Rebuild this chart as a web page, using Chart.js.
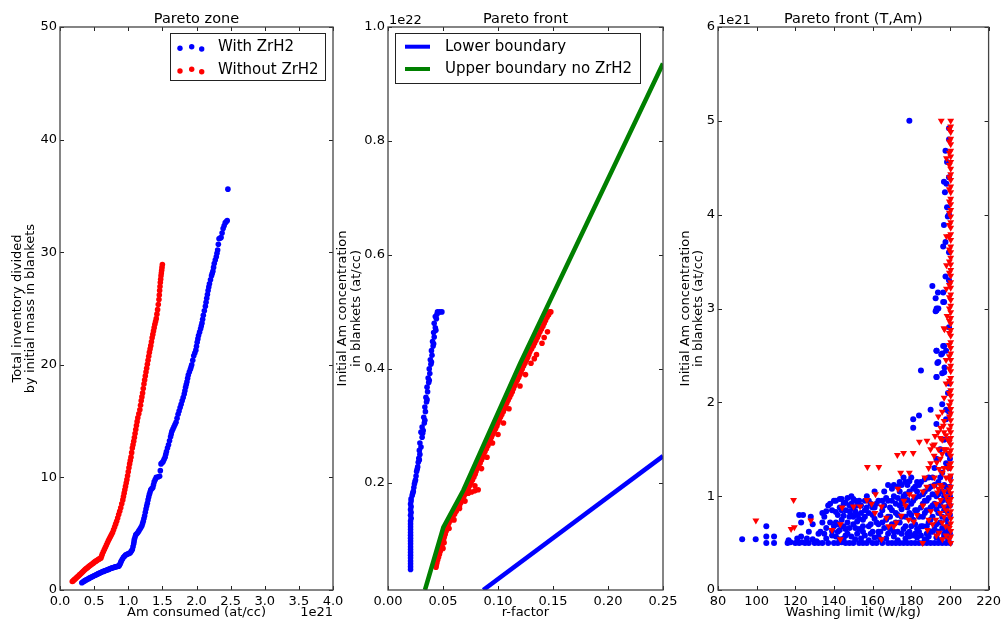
<!DOCTYPE html>
<html>
<head>
<meta charset="utf-8">
<script src="https://cdn.jsdelivr.net/npm/chart.js@4.4.1/dist/chart.umd.min.js"></script>
<style>
html, body { margin: 0; padding: 0; background: #fff; }
#wrap { position: relative; width: 1005px; height: 623px; overflow: hidden; background: #fff; }
canvas { position: absolute; left: 0; top: 0; }
</style>
</head>
<body>
<div id="wrap">
  <canvas id="zone" width="1005" height="623"></canvas>
  <canvas id="front" width="1005" height="623"></canvas>
  <canvas id="frontTAm" width="1005" height="623"></canvas>
</div>
<script>
// ---- Panel 1: Pareto zone (x in 1e21 at/cc) ----
const zoneWith = [
  [0.32,0.65],[0.335,0.71],[0.35,0.78],[0.365,0.83],[0.38,0.88],[0.395,0.93],[0.41,0.98],[0.425,1.03],
  [0.44,1.08],[0.455,1.13],[0.47,1.18],[0.485,1.22],[0.50,1.27],[0.515,1.31],[0.53,1.36],[0.545,1.4],
  [0.56,1.45],[0.575,1.49],[0.59,1.53],[0.605,1.57],[0.62,1.61],[0.635,1.65],[0.65,1.69],[0.665,1.72],
  [0.68,1.76],[0.695,1.8],[0.71,1.83],[0.725,1.87],[0.74,1.9],[0.755,1.94],[0.77,1.97],[0.785,2.0],
  [0.80,2.03],[0.815,2.06],[0.83,2.08],[0.845,2.1],[0.86,2.12],[0.87,2.2],[0.88,2.3],[0.89,2.45],
  [0.90,2.6],[0.915,2.75],[0.93,2.9],[0.945,3.0],[0.96,3.1],[0.975,3.15],[0.99,3.2],[1.01,3.25],
  [1.03,3.3],[1.045,3.45],[1.06,3.6],[1.07,3.85],[1.08,4.1],[1.085,4.3],[1.09,4.5],[1.10,4.7],
  [1.11,4.9],[1.125,5.0],[1.14,5.1],[1.155,5.25],[1.17,5.4],[1.185,5.55],[1.20,5.7],[1.21,5.9],
  [1.22,6.1],[1.23,6.35],[1.24,6.6],[1.25,6.9],[1.26,7.2],[1.27,7.45],[1.28,7.7],[1.29,8.0],
  [1.30,8.25],[1.31,8.5],[1.32,8.7],[1.33,8.9],[1.345,9.0],[1.36,9.1],[1.37,9.35],[1.38,9.6],
  [1.395,9.8],[1.41,10.0],[1.44,10.05],[1.46,10.1],[1.47,10.6],[1.48,11.2],[1.495,11.3],[1.51,11.4],
  [1.525,11.6],[1.54,11.8],[1.55,12.05],[1.56,12.3],[1.575,12.6],[1.59,12.9],[1.605,13.25],[1.62,13.6],
  [1.63,13.85],[1.64,14.1],[1.655,14.3],[1.67,14.5],[1.685,14.7],[1.70,14.9],[1.715,15.25],[1.73,15.6],
  [1.745,15.9],[1.76,16.2],[1.775,16.5],[1.79,16.8],[1.805,17.1],[1.82,17.4],[1.83,17.7],[1.84,18.0],
  [1.85,18.25],[1.86,18.5],[1.87,18.8],[1.88,19.1],[1.895,19.35],[1.91,19.6],[1.92,19.8],[1.93,20.0],
  [1.945,20.4],[1.96,20.8],[1.975,21.05],[1.99,21.3],[2.00,21.65],[2.01,22.0],[2.02,22.3],[2.03,22.6],
  [2.045,22.9],[2.06,23.2],[2.07,23.45],[2.08,23.7],[2.09,24.05],[2.10,24.4],[2.115,24.8],[2.13,25.2],
  [2.14,25.55],[2.15,25.9],[2.16,26.25],[2.17,26.6],[2.18,26.9],[2.19,27.2],[2.205,27.55],[2.22,27.9],
  [2.23,28.1],[2.24,28.3],[2.25,28.65],[2.26,29.0],[2.275,29.3],[2.29,29.6],[2.30,29.9],[2.31,30.2],
  [2.32,30.7],[2.33,31.2],[2.345,31.25],[2.36,31.3],[2.375,31.7],[2.39,32.1],[2.405,32.35],[2.42,32.6],
  [2.435,32.7],[2.45,32.8],[2.46,35.6]
];
const zoneWithout = [
  [0.18,0.75],[0.195,0.83],[0.21,0.92],[0.225,1.0],[0.24,1.08],[0.255,1.17],[0.27,1.25],[0.285,1.34],
  [0.30,1.42],[0.315,1.51],[0.33,1.6],[0.345,1.69],[0.36,1.78],[0.375,1.86],[0.39,1.93],[0.405,2.0],
  [0.42,2.08],[0.435,2.15],[0.45,2.22],[0.465,2.29],[0.48,2.36],[0.495,2.43],[0.51,2.5],[0.525,2.56],
  [0.54,2.62],[0.555,2.68],[0.57,2.74],[0.585,2.8],[0.60,2.85],[0.61,3.02],[0.62,3.2],[0.635,3.4],
  [0.65,3.6],[0.665,3.8],[0.68,4.0],[0.695,4.2],[0.71,4.4],[0.725,4.58],[0.74,4.75],[0.755,4.93],
  [0.77,5.1],[0.785,5.35],[0.80,5.6],[0.815,5.85],[0.83,6.1],[0.845,6.4],[0.86,6.7],[0.875,7.0],
  [0.89,7.3],[0.905,7.65],[0.92,8.0],[0.93,8.3],[0.94,8.6],[0.95,8.9],[0.96,9.2],[0.97,9.5],
  [0.98,9.8],[0.99,10.15],[1.00,10.5],[1.01,10.85],[1.02,11.2],[1.03,11.5],[1.04,11.8],[1.05,12.2],
  [1.06,12.6],[1.07,12.9],[1.08,13.2],[1.09,13.55],[1.10,13.9],[1.11,14.25],[1.12,14.6],[1.13,14.95],
  [1.14,15.3],[1.155,15.65],[1.17,16.0],[1.18,16.4],[1.19,16.8],[1.20,17.15],[1.21,17.5],[1.22,17.9],
  [1.23,18.3],[1.24,18.65],[1.25,19.0],[1.26,19.35],[1.27,19.7],[1.28,20.05],[1.29,20.4],[1.30,20.75],
  [1.31,21.1],[1.32,21.4],[1.33,21.7],[1.34,22.05],[1.35,22.4],[1.36,22.7],[1.37,23.0],[1.38,23.3],
  [1.39,23.6],[1.40,23.85],[1.41,24.1],[1.42,24.5],[1.43,24.9],[1.44,25.35],[1.45,25.8],[1.455,26.2],
  [1.46,26.6],[1.465,26.95],[1.47,27.3],[1.475,27.6],[1.48,27.9],[1.485,28.15],[1.49,28.4],[1.495,28.65],
  [1.50,28.9]
];
const zoneXTicks = [0, 0.5, 1, 1.5, 2, 2.5, 3, 3.5, 4];
const zoneXLabels = ['0.0','0.5','1.0','1.5','2.0','2.5','3.0','3.5','4.0'];
const zoneYTicks = [0, 10, 20, 30, 40, 50];
const zoneYLabels = ['0','10','20','30','40','50'];

// ---- Panel 2: Pareto front (y in 1e22 at/cc) ----
const frontWith = [
  [0.0205,0.048],[0.0205,0.053],[0.0205,0.058],[0.0205,0.063],[0.0205,0.068],[0.0205,0.073],
  [0.0205,0.078],[0.0205,0.083],[0.0205,0.088],[0.0205,0.093],[0.0205,0.098],[0.0205,0.103],
  [0.0205,0.108],[0.0205,0.113],[0.0205,0.118],[0.0205,0.123],[0.0205,0.128],[0.0205,0.133],
  [0.021,0.138],[0.0205,0.143],[0.021,0.148],[0.0205,0.153],[0.021,0.158],[0.0205,0.163],
  [0.021,0.168],[0.021,0.172],[0.022,0.178],[0.023,0.185],[0.0235,0.192],[0.024,0.198],
  [0.025,0.205],[0.0255,0.212],[0.026,0.22],[0.027,0.228],[0.0275,0.236],[0.028,0.243],
  [0.029,0.25],[0.0285,0.257],[0.030,0.263],[0.029,0.27],[0.031,0.28],[0.030,0.289],
  [0.032,0.292],[0.031,0.298],[0.033,0.305],[0.0325,0.315],[0.034,0.325],[0.0335,0.333],
  [0.035,0.342],[0.0345,0.35],[0.036,0.36],[0.0355,0.368],[0.037,0.376],[0.0365,0.384],
  [0.038,0.392],[0.0375,0.4],[0.039,0.408],[0.0385,0.416],[0.040,0.424],[0.0395,0.432],
  [0.041,0.44],[0.0405,0.448],[0.042,0.456],[0.0415,0.464],[0.043,0.472],[0.042,0.48],
  [0.044,0.488],[0.043,0.492],[0.0445,0.496],[0.045,0.5],[0.047,0.5],[0.049,0.5],
  [0.0225,0.182],[0.0245,0.202],[0.0265,0.224],[0.0285,0.24],[0.0315,0.287],[0.0335,0.31],
  [0.0355,0.346],[0.0375,0.38],[0.0395,0.412],[0.0415,0.444],[0.0435,0.468]
];
const frontWithout = [
  [0.0436,0.052],[0.0445,0.06],[0.046,0.07],[0.0475,0.08],[0.049,0.09],[0.0505,0.10],
  [0.052,0.11],[0.0535,0.12],[0.0555,0.13],[0.059,0.14],[0.062,0.15],[0.065,0.16],
  [0.0675,0.17],[0.070,0.18],[0.073,0.19],[0.0755,0.20],[0.078,0.21],[0.080,0.22],
  [0.0825,0.23],[0.085,0.24],[0.087,0.25],[0.0895,0.26],[0.092,0.27],[0.094,0.28],
  [0.0965,0.29],[0.099,0.30],[0.101,0.31],[0.1035,0.32],[0.106,0.33],[0.108,0.34],
  [0.1105,0.35],[0.113,0.36],[0.115,0.37],[0.1175,0.38],[0.12,0.39],[0.122,0.40],
  [0.1245,0.41],[0.127,0.42],[0.129,0.43],[0.132,0.44],[0.1345,0.45],[0.137,0.46],
  [0.1395,0.47],[0.142,0.48],[0.1445,0.49],[0.147,0.50],
  [0.044,0.056],[0.0452,0.065],[0.0468,0.075],[0.0482,0.085],[0.0498,0.095],[0.0512,0.105],
  [0.0528,0.115],[0.0545,0.125],[0.0572,0.135],[0.0605,0.145],[0.0635,0.155],[0.0662,0.165],
  [0.0688,0.175],[0.0718,0.185],[0.0742,0.195],[0.0768,0.205],[0.0792,0.215],[0.0812,0.225],
  [0.0838,0.235],[0.0862,0.245],[0.0882,0.255],[0.0908,0.265],[0.093,0.275],[0.0952,0.285],
  [0.0978,0.295],[0.1,0.305],[0.1022,0.315],[0.1048,0.325],[0.107,0.335],[0.1092,0.345],
  [0.1118,0.355],[0.114,0.365],[0.1162,0.375],[0.1188,0.385],[0.121,0.395],[0.1232,0.405],
  [0.1258,0.415],[0.128,0.425],[0.1305,0.435],[0.1332,0.445],[0.1358,0.455],[0.1382,0.465],
  [0.1408,0.475],[0.1432,0.485],[0.1458,0.495],
  [0.0465,0.075],[0.051,0.095],[0.05,0.085],[0.0555,0.12],[0.06,0.135],[0.065,0.155],
  [0.07,0.168],[0.073,0.182],[0.076,0.184],[0.079,0.186],[0.082,0.188],[0.079,0.195],
  [0.085,0.225],[0.09,0.245],[0.095,0.27],[0.1,0.285],[0.105,0.305],[0.11,0.33],
  [0.12,0.37],[0.125,0.39],[0.13,0.41],[0.133,0.418],[0.135,0.425],[0.14,0.445],
  [0.142,0.455],[0.145,0.465],[0.148,0.5],[0.146,0.495]
];
const lowerBoundary = [[0.0866,0.012],[0.25,0.247]];
const upperBoundary = [[0.0336,0.012],[0.0503,0.122],[0.0685,0.187],[0.12,0.409],[0.25,0.936]];
const frontXTicks = [0, 0.05, 0.1, 0.15, 0.2, 0.25];
const frontXLabels = ['0.00','0.05','0.10','0.15','0.20','0.25'];
const frontYTicks = [0.2, 0.4, 0.6, 0.8, 1.0];
const frontYLabels = ['0.2','0.4','0.6','0.8','1.0'];

// ---- Panel 3: Pareto front (T,Am) (y in 1e21 at/cc) ----
const tamWith = [
  [105,0.5],[109,0.5],[116,0.5],[117.5,0.51],[120,0.5],[122,0.5],[123.5,0.51],[125,0.5],[127,0.5],
  [130,0.5],[132,0.5],[134,0.5],[137,0.5],[140,0.5],[142,0.5],[144,0.51],[146,0.5],[148,0.5],
  [150,0.5],[153,0.5],[155,0.5],[157,0.5],[160,0.5],[162,0.5],[165,0.5],[168,0.5],[170,0.5],
  [172,0.5],[174,0.5],[176,0.5],[178,0.5],[180,0.5],[182,0.5],[184,0.5],[186,0.5],[188,0.5],
  [190,0.5],[192,0.5],[194,0.5],[196,0.5],[198,0.5],[200,0.5],
  [92.5,0.54],[99.5,0.54],[105,0.57],[109,0.57],[116.5,0.53],[121,0.55],[123,0.57],[126,0.55],
  [129,0.54],[131,0.52],[136,0.55],[141,0.57],[143,0.54],[145,0.55],[149,0.57],[151,0.54],
  [154,0.55],[158,0.53],[161,0.56],[164,0.54],[167,0.55],[171,0.57],[173,0.53],[177,0.55],
  [179,0.57],[183,0.56],[187,0.54],[189,0.57],[193,0.56],[195,0.53],[197,0.57],[199,0.55],
  [105,0.68],[122,0.8],[124,0.8],[123,0.72],[128,0.78],[129,0.7],[132,0.6],[134,0.72],[134,0.82],
  [136,0.84],[137,0.9],[138,0.92],[139,0.63],[140,0.68],[141,0.95],[142,0.8],[143,0.88],[143,0.97],
  [144,0.75],[145,0.92],[146,0.85],[146,0.65],[147,0.98],[148,0.78],[148,0.9],[149,1.0],[150,0.87],
  [150,0.7],[151,0.95],[152,0.8],[153,0.65],[154,0.9],[155,0.75],[156,0.85],[157,1.0],[158,0.68],
  [159,0.92],[160,0.8],[161,1.05],[162,0.72],[163,0.95],[164,0.62],[165,0.85],[166,1.05],[167,0.75],
  [168,1.12],[168,0.95],[169,0.65],[170,0.85],[171,1.0],[172,0.72],[173,1.1],[174,0.9],[174,1.15],
  [175,0.78],[176,1.2],[176,1.0],[177,0.68],[178,0.88],[178,1.12],[179,1.05],[180,0.8],[180,1.2],
  [181,0.95],[182,0.7],[182,1.1],[183,0.85],[184,1.0],[184,0.62],[185,1.15],[186,0.78],[186,0.92],
  [187,1.05],[188,0.68],[188,0.85],[189,1.2],[189,0.98],[190,0.75],[190,1.1],[191,0.9],[192,1.3],
  [192,0.65],[193,1.0],[193,1.4],[194,0.82],[194,1.15],[195,0.72],[195,1.5],[196,0.95],[196,1.05],
  [196,1.25],[197,0.6],[197,0.85],[197,1.6],[198,1.1],[198,0.75],[198,1.35],[199,0.95],[199,1.45],
  [199,0.7],[200,1.0],[200,1.2],[200,0.8],[200,1.4],
  [141,0.72],[142,0.62],[144,0.85],[145,0.68],[147,0.6],[149,0.8],[151,0.66],[152,0.9],[153,0.76],
  [155,0.62],[156,0.95],[158,0.82],[160,0.62],[161,0.88],[163,0.7],[165,0.95],[166,0.66],[169,0.78],
  [170,1.08],[171,0.62],[173,0.8],[175,0.95],[177,1.15],[179,0.62],[181,0.75],[183,1.15],[185,0.68],
  [187,0.95],[191,0.62],[191,1.2],
  [133,0.62],[135,0.78],[136,0.66],[138,0.72],[139,0.85],[140,0.95],[141,0.83],[142,0.7],[143,0.64],
  [144,0.97],[145,0.79],[146,0.93],[147,0.72],[148,0.84],[148,0.66],[149,0.92],[150,0.78],[150,0.97],
  [151,0.84],[152,0.73],[153,0.95],[154,0.82],[155,0.68],[156,0.78],[157,0.88],[158,0.95],[159,0.7],
  [160,0.88],[161,0.76],[162,0.92],[163,0.62],[164,0.8],[165,0.72],[166,0.9],[167,0.98],[168,0.78],
  [169,0.88],[170,0.7],[170,0.95],[171,1.12],[172,0.82],[172,0.92],[173,0.62],[173,0.98],[174,0.72],
  [174,1.05],[175,0.86],[175,1.12],[176,0.65],[176,0.92],[177,0.78],[177,1.02],[178,0.6],[178,0.96],
  [179,0.82],[179,1.16],[180,0.68],[180,0.92],[181,1.08],[181,0.58],[182,0.85],[182,0.98],[183,0.65],
  [183,1.05],[184,0.78],[184,1.12],[185,0.88],[185,0.58],[186,1.02],[186,0.68],[187,0.82],[187,1.18],
  [188,0.95],[188,0.6],[189,0.72],[189,1.08],[190,0.88],[190,0.62],[191,1.02],[191,0.78],[192,0.92],
  [192,1.12],[193,0.7],[193,0.86],[194,0.62],[194,1.02],[195,0.9],[195,1.2],[196,0.78],[196,0.66],
  [197,1.0],[197,1.12],[198,0.88],[198,0.64],[199,1.05],[199,0.82],[200,0.6],[200,0.9],[200,1.1],
  [146,0.58],[152,0.6],[156,0.58],[159,0.6],[163,0.57],[168,0.6],[175,0.6],[182,0.6],[188,0.52],
  [139,0.58],[135,0.6],[127,0.62],
  [181,1.82],[181,1.73],[184,1.86],[185,2.34],[190,1.92],[193,1.77],[193,2.27],[193,2.55],[194,2.43],
  [196,1.98],[196,2.52],[197,2.32],[197,2.6],[198,2.55],[198,1.82],[198,1.92],[199,2.1],[193,2.98],
  [194,3.0],[197,3.07],[179,5.0],[197.7,4.68],[198.5,4.56],[196.9,4.35],[198.2,4.33],[197.4,4.24],
  [198.5,4.08],[198.9,3.98],[196.9,3.89],[197.7,3.71],[196.5,3.66],[197.7,3.34],[190.9,3.24],
  [193.8,3.17],[196.5,3.17],[192.6,3.11],[196.5,3.07],[193.1,3.0],[192.6,2.97],[196.5,2.6],
  [193.1,2.55],[195.5,2.51],[193.5,2.42],[197.2,2.37],[193.1,2.27],[196,2.31],
  [199.5,0.6],[199.5,0.9],[199.5,1.3],[199.5,1.6],[199.5,1.9],[199.5,2.2],[199.5,2.8],[199.5,3.3],
  [199.5,3.6],[199.5,4.0],[199.5,4.4],[199.5,4.8],[199.5,4.92]
];
const tamWithoutScatter = [
  [99.6,0.74],[119.1,0.96],[117.8,0.65],[119.5,0.67],[128,0.74],[139,0.64],[144.2,0.88],[143.3,0.7],
  [143.3,0.54],[150.1,0.89],[153.5,0.89],[157.3,1.31],[163.2,1.31],[157,0.96],[159.5,0.92],
  [161.5,1.02],[161.2,0.82],[164.6,0.89],[167.1,0.77],[168.3,0.68],[164.6,0.54],[172.8,1.44],
  [176,1.46],[181,1.46],[174.5,1.25],[179,1.25],[173.1,1.08],[176.2,0.95],[179,1.02],[172.3,0.72],
  [174.8,0.79],[178.6,0.75],[181.3,0.73],[184.2,1.58],[188.1,1.59],[185.9,0.5],[188.4,0.64],
  [190.1,0.84],[191,1.54],[192.3,1.64],[193.9,1.68],[195.2,1.73],[196.6,1.75],[191.8,1.43],
  [193.2,1.36],[194.4,1.29],[196.1,1.25],[191.8,1.11],[193.5,1.04],[195.2,0.96],[196.9,0.89],
  [192.7,0.75],[194.4,0.61],[196.1,0.54],[197.8,0.68],[196.9,2.79],[195.5,5.0],[197.2,2.78],
  [198.2,3.77],[198.2,3.46],[198.2,3.21],[198.5,2.92],[198.2,4.6],
  [194,1.5],[195,1.4],[196,1.6],[197,1.3],[197,1.5],[198,1.65],[198,1.2],[198,1.0],[197,0.78],
  [198,0.58],[196,1.1],[195,0.82],[192,1.55],[190,1.5],[189,1.3],[186,0.9],[183,0.8],[181,1.0],
  [177,0.9],[171,0.68],
  [186,1.05],[187,1.2],[188,1.1],[189,0.75],[190,1.35],[191,0.7],[192,1.2],[193,0.58],[193,0.92],
  [194,1.08],[195,1.12],[196,0.72],[196,1.45],[197,1.05],[197,1.68],[198,1.5],[198,0.85],[199,1.3],
  [199,0.95],[199,1.6],[195,1.62],[194,1.85],[196,1.9],[197,2.05],[198,2.2],[198,2.45],[197,1.8]
];
// dense column of runs stopped at the 200 W/kg limit
const tamLimitA = [0.5,0.57,0.63,0.71,0.76,0.84,0.9,0.97,1.03,1.1,1.16,1.22,1.3,1.35,1.43,1.49,1.55,
  1.62,1.68,1.75,1.81,1.88,1.93,2.01,2.07,2.13,2.2,2.26,2.33,2.39,2.45,2.52,2.58,2.64,2.71,2.77,2.84,
  2.9,2.96,3.03,3.09,3.15,3.22,3.28,3.35,3.41,3.47,3.54,3.6,3.66,3.73,3.79,3.86,3.92,3.98,4.05,4.11,
  4.17,4.24,4.3,4.37,4.43,4.49,4.56,4.62,4.68,4.75,4.81,4.88,4.94,5.0];
const tamLimitB = [0.54,0.66,0.8,0.93,1.07,1.19,1.33,1.46,1.58,1.71,1.85,1.97,2.1,2.23,2.36,2.49,2.61,
  2.74,2.87,3.0,3.12,3.25,3.38,3.5,3.63,3.77,3.89,4.02,4.14,4.27,4.4,4.53,4.66,4.78,4.91];
const tamXTicks = [80, 100, 120, 140, 160, 180, 200, 220];
const tamXLabels = ['80','100','120','140','160','180','200','220'];
const tamYTicks = [0, 1, 2, 3, 4, 5, 6];
const tamYLabels = ['0','1','2','3','4','5','6'];

const FONT = 'DejaVu Sans';
const BLUE = '#0000ff', RED = '#ff0000', GREEN = '#008000';

const pts = arr => arr.map(([x, y]) => ({ x, y }));

// frame, inward ticks, titles, labels and legends (matplotlib look)
const decorPlugin = {
    id: 'decor',
    afterDatasetsDraw(chart, args, opts) {
        const { ctx, chartArea: a } = chart;
        const xs = chart.scales.x, ys = chart.scales.y;
        ctx.save();
        ctx.strokeStyle = '#222';
        ctx.lineWidth = 1;
        ctx.beginPath();
        opts.xTicks.forEach(v => {
            const p = Math.round(xs.getPixelForValue(v)) + 0.5;
            ctx.moveTo(p, a.bottom); ctx.lineTo(p, a.bottom - 4);
            ctx.moveTo(p, a.top); ctx.lineTo(p, a.top + 4);
        });
        opts.yTicks.forEach(v => {
            const p = Math.round(ys.getPixelForValue(v)) + 0.5;
            ctx.moveTo(a.left, p); ctx.lineTo(a.left + 4, p);
            ctx.moveTo(a.right, p); ctx.lineTo(a.right - 4, p);
        });
        ctx.stroke();
        ctx.strokeStyle = '#444';
        ctx.lineWidth = 1.3;
        ctx.strokeRect(a.left, a.top, a.right - a.left, a.bottom - a.top);
        ctx.restore();
    },
    afterDraw(chart, args, opts) {
        const { ctx, chartArea: a } = chart;
        const cx = (a.left + a.right) / 2, cy = (a.top + a.bottom) / 2;
        ctx.save();
        ctx.fillStyle = '#000';
        ctx.textBaseline = 'alphabetic';
        ctx.textAlign = 'center';
        ctx.font = `14.5px "${FONT}"`;
        ctx.fillText(opts.title, cx, 23);
        ctx.font = `13px "${FONT}"`;
        ctx.fillText(opts.xLabel, cx, 616);
        if (opts.offset) {
            ctx.textAlign = opts.offset.align;
            ctx.fillText(opts.offset.text, opts.offset.x, opts.offset.y);
        }
        ctx.textAlign = 'center';
        ctx.textBaseline = 'middle';
        opts.yLabel.forEach((line, i) => {
            ctx.save();
            ctx.translate(opts.yLabelX[i], cy);
            ctx.rotate(-Math.PI / 2);
            ctx.fillText(line, 0, 0);
            ctx.restore();
        });
        if (opts.legend) {
            const L = opts.legend;
            ctx.fillStyle = '#fff';
            ctx.fillRect(L.box[0], L.box[1], L.box[2], L.box[3]);
            ctx.strokeStyle = '#222';
            ctx.lineWidth = 1;
            ctx.strokeRect(L.box[0] + 0.5, L.box[1] + 0.5, L.box[2], L.box[3]);
            L.items.forEach(it => {
                if (it.kind === 'dots') {
                    ctx.fillStyle = it.color;
                    it.dots.forEach(([dx, dy]) => {
                        ctx.beginPath();
                        ctx.arc(dx, dy, 2.7, 0, Math.PI * 2);
                        ctx.fill();
                    });
                } else {
                    ctx.strokeStyle = it.color;
                    ctx.lineWidth = 4;
                    ctx.beginPath();
                    ctx.moveTo(it.line[0], it.y);
                    ctx.lineTo(it.line[1], it.y);
                    ctx.stroke();
                }
                ctx.fillStyle = '#000';
                ctx.font = `15px "${FONT}"`;
                ctx.textAlign = 'left';
                ctx.textBaseline = 'middle';
                ctx.fillText(it.text, it.textX, it.y);
            });
        }
        ctx.restore();
    }
};

function makeAxis(min, max, ticks, labels, axis) {
    return {
        type: 'linear',
        min: min,
        max: max,
        afterFit: s => { if (axis === 'x') s.height = 20; else s.width = 40; },
        afterBuildTicks: s => { s.ticks = ticks.map(v => ({ value: v })); },
        grid: { display: false, drawTicks: false },
        border: { display: false },
        ticks: {
            autoSkip: false,
            maxRotation: 0,
            minRotation: 0,
            padding: axis === 'x' ? 4 : 3,
            color: '#000',
            font: { family: FONT, size: 13 },
            callback: (v, i) => labels[i]
        }
    };
}

function makePanel(id, box, xAxis, yAxis, datasets, decor) {
    return new Chart(document.getElementById(id), {
        type: 'scatter',
        data: { datasets: datasets },
        options: {
            responsive: false,
            animation: false,
            events: [],
            layout: {
                padding: { left: box.left - 40, top: box.top, right: 1005 - box.right, bottom: 623 - box.bottom - 20 }
            },
            scales: { x: xAxis, y: yAxis },
            plugins: { legend: { display: false }, tooltip: { enabled: false }, decor: decor }
        },
        plugins: [decorPlugin]
    });
}

function dots(data, color, r, extra) {
    return Object.assign({
        data: pts(data),
        backgroundColor: color,
        borderColor: color,
        pointRadius: r,
        pointHoverRadius: r,
        pointBorderWidth: 0
    }, extra || {});
}

function line(data, color, order) {
    return {
        data: pts(data),
        showLine: true,
        borderColor: color,
        borderWidth: 4.5,
        pointRadius: 0,
        tension: 0,
        order: order
    };
}

// Panel 1
makePanel('zone', { left: 60, top: 27, right: 333, bottom: 590 },
    makeAxis(0, 4, zoneXTicks, zoneXLabels, 'x'),
    makeAxis(0, 50, zoneYTicks, zoneYLabels, 'y'),
    [dots(zoneWith, BLUE, 2.8), dots(zoneWithout, RED, 2.8)],
    {
        xTicks: zoneXTicks, yTicks: zoneYTicks,
        title: 'Pareto zone', xLabel: 'Am consumed (at/cc)',
        yLabel: ['Total inventory divided', 'by initial mass in blankets'], yLabelX: [18, 31],
        offset: { text: '1e21', x: 333, y: 616, align: 'right' },
        legend: {
            box: [170, 33, 155, 47],
            items: [
                { kind: 'dots', color: BLUE, dots: [[180, 48.3], [191.7, 46.7], [201.7, 49]], text: 'With ZrH2', textX: 218, y: 47.5 },
                { kind: 'dots', color: RED, dots: [[180, 71], [191.7, 69.3], [201.7, 71.7]], text: 'Without ZrH2', textX: 218, y: 70 }
            ]
        }
    });

// Panel 2
makePanel('front', { left: 388, top: 27, right: 663, bottom: 590 },
    makeAxis(0, 0.25, frontXTicks, frontXLabels, 'x'),
    makeAxis(0.012, 1.0, frontYTicks, frontYLabels, 'y'),
    [line(lowerBoundary, BLUE, 0), line(upperBoundary, GREEN, 1),
     dots(frontWithout, RED, 2.8, { order: 2 }), dots(frontWith, BLUE, 2.8, { order: 3 })],
    {
        xTicks: frontXTicks, yTicks: frontYTicks,
        title: 'Pareto front', xLabel: 'r-factor',
        yLabel: ['Initial Am concentration', 'in blankets (at/cc)'], yLabelX: [343, 357],
        offset: { text: '1e22', x: 389, y: 24, align: 'left' },
        legend: {
            box: [395, 33, 245, 50],
            items: [
                { kind: 'line', color: BLUE, line: [405, 430], text: 'Lower boundary', textX: 445, y: 46.7 },
                { kind: 'line', color: GREEN, line: [405, 430], text: 'Upper boundary no ZrH2', textX: 445, y: 69 }
            ]
        }
    });

// Panel 3
const triangle = { pointStyle: 'triangle', rotation: 180 };
makePanel('frontTAm', { left: 718, top: 27, right: 992, bottom: 590 },
    makeAxis(80, 220, tamXTicks, tamXLabels, 'x'),
    makeAxis(0, 6, tamYTicks, tamYLabels, 'y'),
    [
        dots(tamLimitA.map(y => [200.4, y]), RED, 4, Object.assign({ order: 0 }, triangle)),
        dots(tamLimitB.map(y => [199.7, y]), RED, 4, Object.assign({ order: 1 }, triangle)),
        dots(tamWithoutScatter, RED, 4, Object.assign({ order: 2 }, triangle)),
        dots(tamWith, BLUE, 3, { order: 3 })
    ],
    {
        xTicks: tamXTicks, yTicks: tamYTicks,
        title: 'Pareto front (T,Am)', xLabel: 'Washing limit (W/kg)',
        yLabel: ['Initial Am concentration', 'in blankets (at/cc)'], yLabelX: [686, 699],
        offset: { text: '1e21', x: 718, y: 24, align: 'left' }
    });
</script>
</body>
</html>
